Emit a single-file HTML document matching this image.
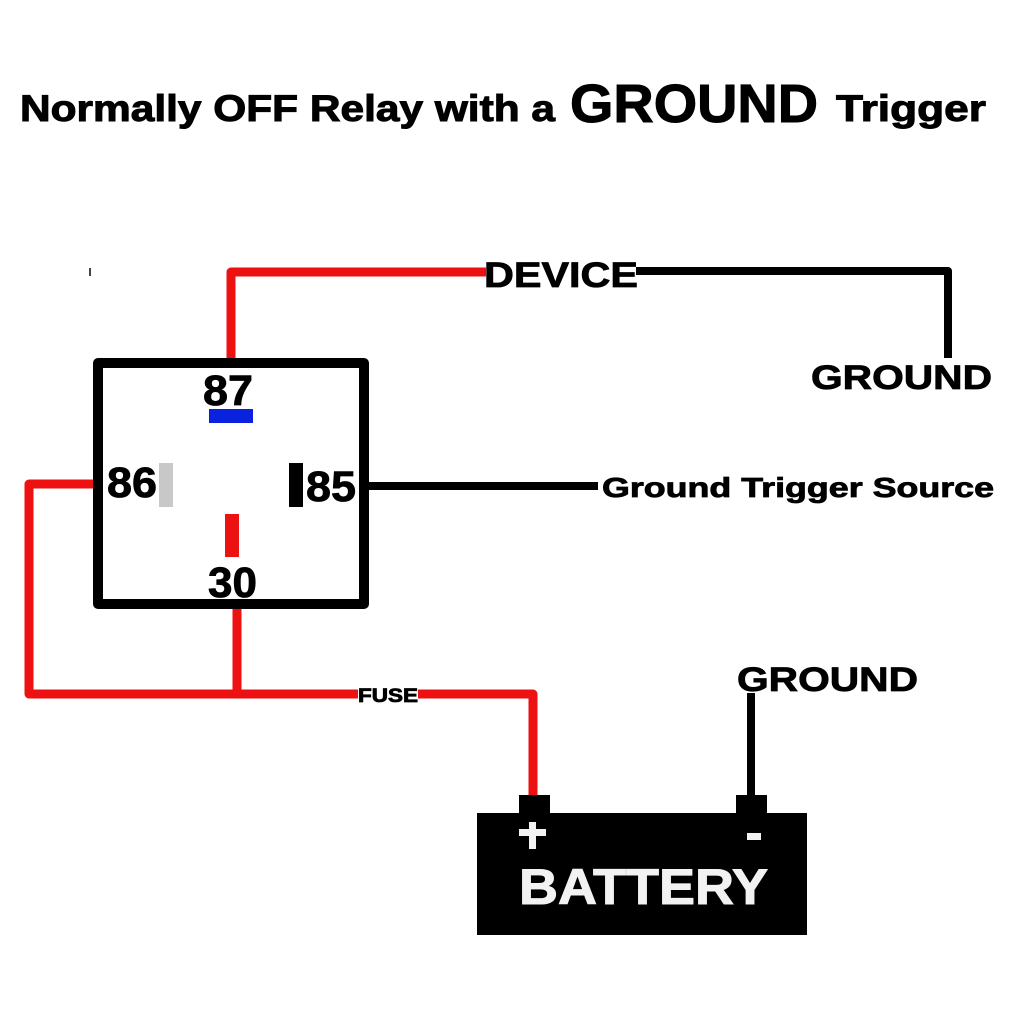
<!DOCTYPE html>
<html><head><style>body{margin:0;background:#fff}svg{display:block}</style></head>
<body>
<svg width="1018" height="1018" viewBox="0 0 1018 1018" xmlns="http://www.w3.org/2000/svg" font-family="Liberation Sans, Arial, sans-serif" font-weight="bold">
<rect width="1018" height="1018" fill="#fff"/>
<g stroke="#000" stroke-width="1">
<text x="20" y="121" font-size="37" textLength="535" lengthAdjust="spacingAndGlyphs">Normally OFF Relay with a</text>
<text x="570" y="122" font-size="54" textLength="248" lengthAdjust="spacingAndGlyphs">GROUND</text>
<text x="836" y="121" font-size="37" textLength="150" lengthAdjust="spacingAndGlyphs">Trigger</text>
</g>
<rect x="89" y="268" width="2" height="8" fill="#444"/>
<g fill="none" stroke-linejoin="round">
<polyline points="231,358 231,272 486,272" stroke="#ee1111" stroke-width="9"/>
<polyline points="636,271 948,271 948,358" stroke="#000" stroke-width="8"/>
<polyline points="93,484 29,484 29,694 358,694" stroke="#ee1111" stroke-width="9"/>
<polyline points="418,694 533,694 533,796" stroke="#ee1111" stroke-width="9"/>
<line x1="237" y1="609" x2="237" y2="694" stroke="#ee1111" stroke-width="9"/>
<line x1="369" y1="486" x2="598" y2="486" stroke="#000" stroke-width="8"/>
<line x1="751" y1="693" x2="751" y2="796" stroke="#000" stroke-width="8"/>
<rect x="98" y="363" width="266" height="241" stroke="#000" stroke-width="10"/>
</g>
<g stroke="#000" stroke-width="0.8">
<text x="484" y="287" font-size="35" textLength="154" lengthAdjust="spacingAndGlyphs">DEVICE</text>
<text x="811" y="389" font-size="34" textLength="181" lengthAdjust="spacingAndGlyphs">GROUND</text>
<text x="602" y="497" font-size="28" textLength="392" lengthAdjust="spacingAndGlyphs">Ground Trigger Source</text>
<text x="737" y="691" font-size="34" textLength="181" lengthAdjust="spacingAndGlyphs">GROUND</text>
<text x="358" y="702" font-size="19" textLength="60" lengthAdjust="spacingAndGlyphs">FUSE</text>
<text x="203" y="405" font-size="43" textLength="50" lengthAdjust="spacingAndGlyphs">87</text>
<text x="107" y="497" font-size="43" textLength="50" lengthAdjust="spacingAndGlyphs">86</text>
<text x="306" y="501" font-size="43" textLength="50" lengthAdjust="spacingAndGlyphs">85</text>
<text x="208" y="597" font-size="43" textLength="49" lengthAdjust="spacingAndGlyphs">30</text>
</g>
<rect x="209" y="409" width="44" height="14" fill="#0a22dd"/>
<rect x="159" y="463" width="14" height="44" fill="#c8c8c8"/>
<rect x="289" y="463" width="14" height="44" fill="#000"/>
<rect x="225" y="514" width="14" height="43" fill="#ee1111"/>
<rect x="519" y="795" width="31" height="20" fill="#000"/>
<rect x="736" y="795" width="31" height="20" fill="#000"/>
<rect x="477" y="813" width="330" height="122" fill="#000"/>
<rect x="519" y="829" width="27" height="7" fill="#f2f2f2"/>
<rect x="529" y="822" width="7" height="27" fill="#f2f2f2"/>
<rect x="747" y="833" width="14" height="7" fill="#f2f2f2"/>
<text x="519" y="904" font-size="50" fill="#f2f2f2" stroke="#f2f2f2" stroke-width="1" textLength="249" lengthAdjust="spacingAndGlyphs">BATTERY</text>
</svg>
</body></html>
